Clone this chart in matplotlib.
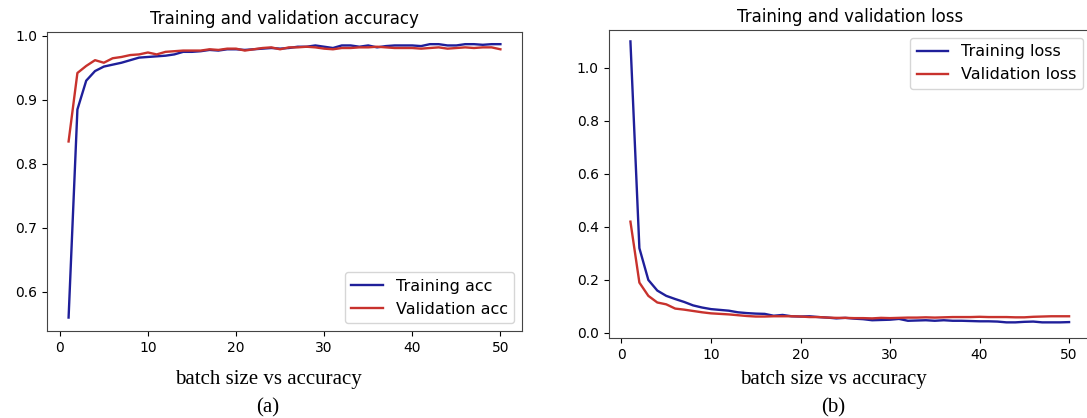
import matplotlib
matplotlib.use("Agg")
import matplotlib.pyplot as plt
import numpy as np

epochs = np.arange(1, 51)

train_acc = [0.560, 0.885, 0.930, 0.945, 0.952, 0.955, 0.958, 0.962, 0.966, 0.967,
             0.968, 0.969, 0.971, 0.975, 0.975, 0.976, 0.978, 0.977, 0.979, 0.979,
             0.978, 0.979, 0.980, 0.981, 0.980, 0.981, 0.983, 0.983, 0.985, 0.983,
             0.981, 0.985, 0.985, 0.983, 0.985, 0.982, 0.984, 0.985, 0.985, 0.985,
             0.984, 0.987, 0.987, 0.985, 0.985, 0.987, 0.987, 0.986, 0.987, 0.987]
val_acc = [0.835, 0.942, 0.953, 0.962, 0.958, 0.965, 0.967, 0.970, 0.971, 0.974,
           0.971, 0.975, 0.976, 0.977, 0.977, 0.977, 0.979, 0.978, 0.980, 0.980,
           0.977, 0.979, 0.981, 0.982, 0.979, 0.982, 0.982, 0.983, 0.982, 0.980,
           0.979, 0.981, 0.981, 0.982, 0.982, 0.983, 0.982, 0.981, 0.981, 0.981,
           0.980, 0.981, 0.982, 0.980, 0.981, 0.982, 0.981, 0.982, 0.982, 0.979]

train_loss = [1.100, 0.320, 0.200, 0.160, 0.140, 0.128, 0.117, 0.104, 0.096, 0.090,
              0.087, 0.084, 0.078, 0.075, 0.073, 0.072, 0.065, 0.068, 0.063, 0.062,
              0.063, 0.060, 0.058, 0.055, 0.057, 0.054, 0.052, 0.048, 0.049, 0.050,
              0.053, 0.046, 0.047, 0.048, 0.046, 0.048, 0.046, 0.046, 0.045, 0.044,
              0.044, 0.043, 0.040, 0.040, 0.042, 0.043, 0.040, 0.040, 0.040, 0.041]
val_loss = [0.420, 0.190, 0.140, 0.115, 0.108, 0.092, 0.088, 0.083, 0.078, 0.074,
            0.072, 0.070, 0.067, 0.064, 0.062, 0.062, 0.063, 0.063, 0.063, 0.062,
            0.060, 0.060, 0.058, 0.057, 0.057, 0.056, 0.056, 0.055, 0.057, 0.056,
            0.057, 0.058, 0.058, 0.059, 0.058, 0.059, 0.060, 0.060, 0.060, 0.061,
            0.060, 0.060, 0.060, 0.059, 0.059, 0.061, 0.062, 0.063, 0.063, 0.063]

W, H = 1087, 418
blue = '#1f1f9a'
red = '#c8322d'

fig = plt.figure(figsize=(W / 100, H / 100), dpi=100)

# accuracy panel
ax1 = fig.add_axes([47 / W, (H - 331) / H, (522 - 47) / W, (331 - 32) / H])
ax1.plot(epochs, train_acc, color=blue, lw=1.7, label='Training acc')
ax1.plot(epochs, val_acc, color=red, lw=1.7, label='Validation acc')
ax1.set_title('Training and validation accuracy', fontsize=12)
ax1.set_ylim(0.539, 1.006)
ax1.set_yticks([0.6, 0.7, 0.8, 0.9, 1.0])
ax1.set_xticks([0, 10, 20, 30, 40, 50])
ax1.legend(loc='lower right', fontsize=11.5)

# loss panel
ax2 = fig.add_axes([608.5 / W, (H - 338) / H, (1091 - 608.5) / W, (338 - 30) / H])
ax2.plot(epochs, train_loss, color=blue, lw=1.7, label='Training loss')
ax2.plot(epochs, val_loss, color=red, lw=1.7, label='Validation loss')
ax2.set_title('Training and validation loss', fontsize=12)
ax2.set_ylim(-0.019, 1.143)
ax2.set_yticks([0.0, 0.2, 0.4, 0.6, 0.8, 1.0])
ax2.set_xticks([0, 10, 20, 30, 40, 50])
ax2.legend(loc='upper right', fontsize=11.5)

for ax in (ax1, ax2):
    ax.tick_params(labelsize=10)
    for s in ax.spines.values():
        s.set_color('#444444')

serif = dict(family='Liberation Serif', fontsize=15, ha='center')
fig.text(268 / W, 1 - 384 / H, 'batch size vs accuracy', **serif)
fig.text(268 / W, 1 - 412 / H, '(a)', **serif)
fig.text(833 / W, 1 - 384 / H, 'batch size vs accuracy', **serif)
fig.text(833 / W, 1 - 412 / H, '(b)', **serif)

fig.savefig('out.png', dpi=100)
